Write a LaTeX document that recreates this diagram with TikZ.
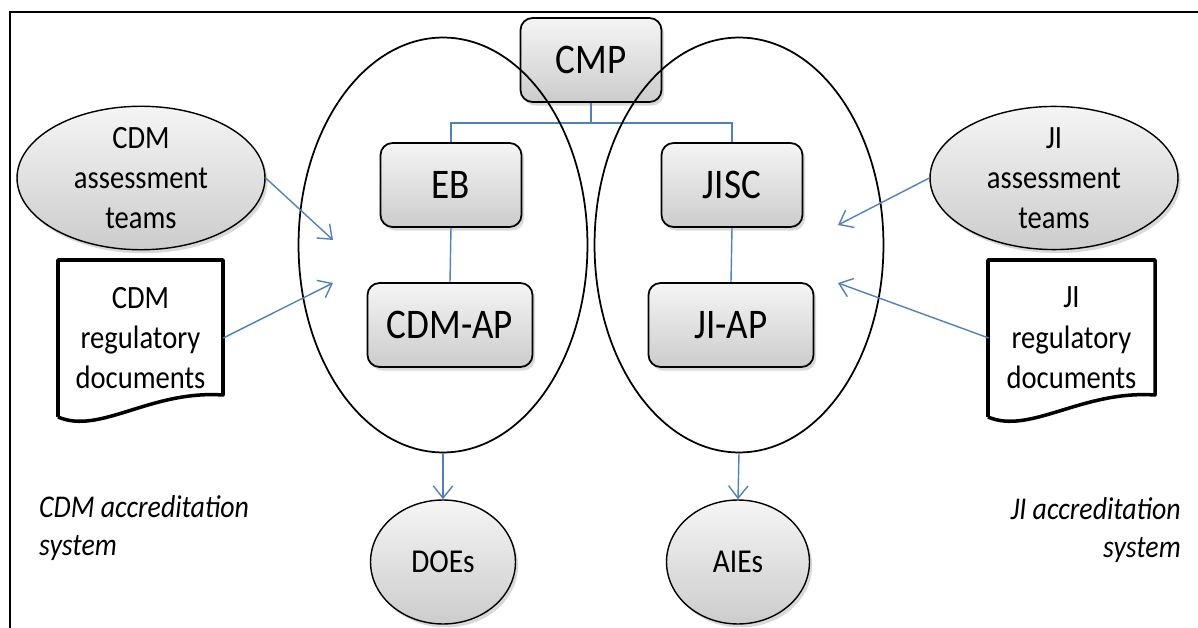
\documentclass[tikz,border=0pt]{standalone}
\usepackage{fontspec}
\setmainfont{Carlito}[FakeStretch=0.88]
\usepackage{tikz}
\usetikzlibrary{arrows.meta, positioning, shapes.geometric, shadows, calc}

\definecolor{linkblue}{RGB}{79,129,189}

\begin{document}
\begin{tikzpicture}[x=0.02cm, y=-0.02cm,
    shade/.style={top color=gray!8, bottom color=gray!40,
        drop shadow={shadow xshift=1.5pt, shadow yshift=-2pt, opacity=0.3}},
    body/.style={shade, rectangle, rounded corners=0.24cm, draw, line width=1pt,
        minimum width=2.82cm, minimum height=1.68cm, font=\fontsize{24}{28}\selectfont},
    team/.style={shade, ellipse, draw, line width=0.8pt, inner sep=0pt,
        minimum width=4.96cm, minimum height=2.44cm, align=center, font=\fontsize{18.5}{22.8}\selectfont},
    entity/.style={shade, ellipse, draw, line width=0.8pt, inner sep=0pt,
        minimum width=2.9cm, minimum height=2.48cm, font=\fontsize{19}{23}\selectfont},
    system/.style={ellipse, draw, line width=1pt, inner sep=0pt,
        minimum width=5.78cm, minimum height=8.3cm},
    doctext/.style={rectangle, inner sep=0pt, minimum width=3.3cm, minimum height=3.14cm,
        align=center, font=\fontsize{18.5}{23}\selectfont},
    docline/.style={draw, line width=2pt, line join=round},
    note/.style={align=left, font=\fontsize{18}{22}\selectfont\itshape},
    link/.style={draw=linkblue, line width=0.8pt},
    arrow/.style={link, -{Straight Barb[length=7pt, width=11pt]}}
]
\useasboundingbox (0,0) rectangle (1198,628);

% frame (only top and left edges are visible)
\draw[line width=1pt] (1198,12) -- (10,12) -- (10,628);

% management bodies
\node[body] (CMP) at (591,60) {CMP};
\node[body] (EB) at (451,185) {EB};
\node[body, minimum width=3.3cm] (CDMAP) at (450,325) {CDM-AP};
\node[body] (JISC) at (732,185) {JISC};
\node[body, minimum width=3.3cm] (JIAP) at (731,325) {JI-AP};

% hierarchy links
\coordinate (split) at ($(CMP.south)+(0,20)$);
\draw[link] (CMP.south) -- (split);
\draw[link] (EB.north) |- (split) -| (JISC.north);
\draw[link] (EB.south) -- (CDMAP.north);
\draw[link] (JISC.south) -- (JIAP.north);

% the two accreditation systems
\node[system] (cdmsys) at (443,245) {};
\node[system] (jisys) at (739,245) {};

% assessment teams
\node[team] (cdmteam) at (141,178) {CDM\\assessment\\teams};
\node[team] (jiteam) at (1054,178) {JI\\assessment\\teams};

% regulatory documents
\draw[docline] (58,417) -- (58,260) -- (223,260) -- (223,395)
    .. controls (150,390) and (100,435) .. (58,417);
\node[doctext] (cdmdoc) at (140.5,338) {CDM\\regulatory\\documents};
\draw[docline] (988,417) -- (988,260) -- (1155,260) -- (1155,395)
    .. controls (1082,390) and (1030,435) .. (988,417);
\node[doctext] (jidoc) at (1071.5,338) {JI\\regulatory\\documents};

% inputs into the systems
\coordinate (cdmin1) at (333,240);
\coordinate (cdmin2) at (333,283);
\coordinate (jiin1) at (838,225);
\coordinate (jiin2) at (838,283);
\draw[arrow] (cdmteam.east) -- (cdmin1);
\draw[arrow] (cdmdoc.east) -- (cdmin2);
\draw[arrow] (jiteam.west) -- (jiin1);
\draw[arrow] (jidoc.west) -- (jiin2);

% accredited entities
\node[entity] (DOEs) at (443,562) {DOEs};
\node[entity, minimum width=2.86cm] (AIEs) at (738,562) {AIEs};
\draw[arrow] (cdmsys.south) -- (DOEs.north);
\draw[arrow] (jisys.south) -- (AIEs.north);

% captions
\node[note, anchor=west] (cdmnote) at (33,528) {CDM accreditation\\system};
\node[note, anchor=east, align=right] (jinote) at (1187,530) {JI accreditation\\system};

\end{tikzpicture}
\end{document}
